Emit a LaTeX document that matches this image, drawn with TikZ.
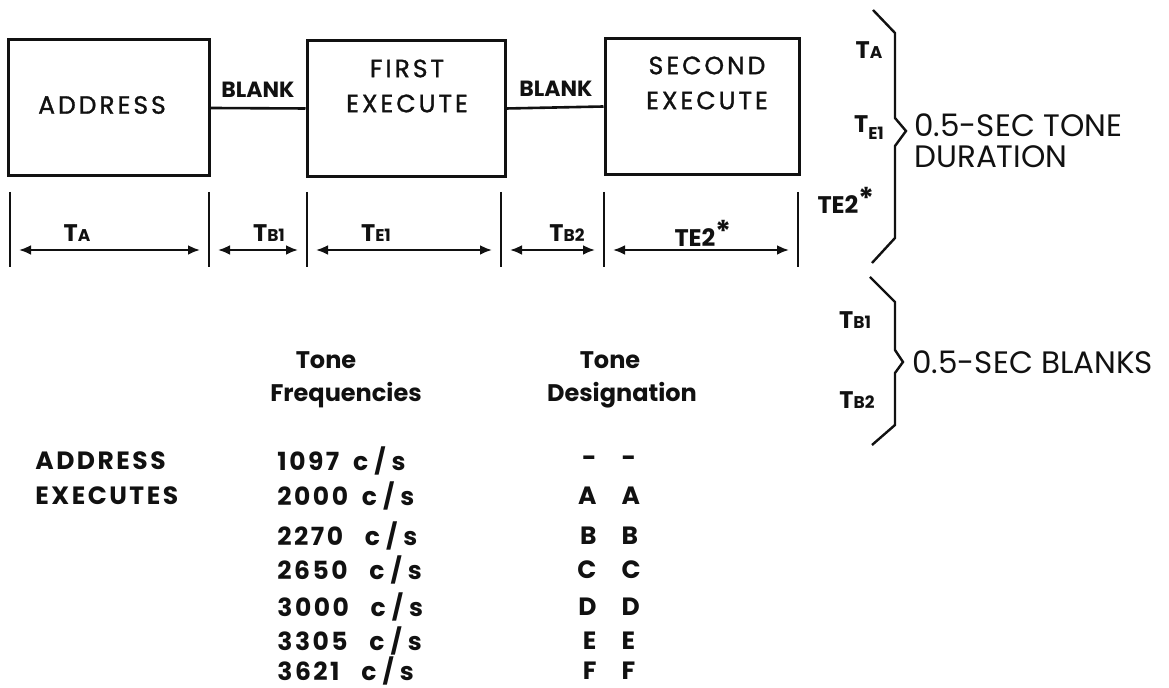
\documentclass[tikz,border=0pt]{standalone}
\usepackage{fontspec}
\setmainfont{Poppins}
\newfontfamily\lettering[LetterSpace=12,FakeBold=1.2]{Poppins}
\newfontfamily\tablefont[LetterSpace=10]{Poppins}
\usepackage{xcolor}
\usepackage{tikz}
\usetikzlibrary{arrows.meta,calc}
\definecolor{ink}{HTML}{111111}
\newcommand{\tsub}[1]{T{\fontsize{8.5pt}{10pt}\selectfont #1}}
\newcommand{\tlow}[1]{T\raisebox{-3.5pt}{\fontsize{8.5pt}{10pt}\selectfont #1}}
\newcommand{\tstar}{\raisebox{2pt}{\fontsize{15pt}{15pt}\selectfont\bfseries *}}
\newcommand{\cps}{c\kern3pt/\kern3pt s}
\tikzset{
  tonebox/.style={rectangle, draw=ink, line width=1.5pt, minimum height=68pt, inner sep=0pt},
  boxlabel/.style={text=ink, align=center, inner sep=0pt, font=\lettering\fontsize{12.5pt}{17.5pt}\selectfont},
  blanklabel/.style={text=ink, inner sep=0pt, font=\fontsize{11pt}{13pt}\selectfont\bfseries},
  blankline/.style={draw=ink, line width=1.3pt},
  tick/.style={draw=ink, line width=1.1pt},
  dimarrow/.style={{Latex[length=6pt,width=5pt]}-{Latex[length=6pt,width=5pt]}, draw=ink, line width=1.2pt, shorten <=4.5pt, shorten >=4.5pt},
  dimlabel/.style={text=ink, inner sep=0pt, font=\fontsize{12pt}{14pt}\selectfont\bfseries},
  brace/.style={draw=ink, line width=1.2pt},
  bracetext/.style={text=ink, align=left, inner sep=0pt, anchor=west, font=\fontsize{15.5pt}{15.5pt}\selectfont},
  tablehead/.style={text=ink, inner sep=0pt, font=\fontsize{12pt}{14pt}\selectfont\bfseries},
  tablecell/.style={text=ink, inner sep=0pt, font=\tablefont\fontsize{12.5pt}{14pt}\selectfont\bfseries}
}
\begin{document}
\begin{tikzpicture}[x=0.5pt, y=-0.5pt]
  \useasboundingbox (0,0) rectangle (1169,688);
  % tone boxes
  \node[tonebox, minimum width=100.5pt] (addr) at (108.5,108) {};
  \node[tonebox, minimum width=99pt] (first) at (406,108.5) {};
  \node[tonebox, minimum width=97pt] (second) at (702,106.5) {};
  \node[boxlabel] (addrtxt) at (102,105) {ADDRESS};
  \node[boxlabel] (firsttxt) at (407,86) {FIRST\\EXECUTE};
  \node[boxlabel] (secondtxt) at (707,83) {SECOND\\EXECUTE};
  % blanks
  \draw[blankline] (addr.east) -- (first.west);
  \draw[blankline] (first.east) -- (second.west);
  \node[blanklabel] (blank1) at (258,90) {BLANK};
  \node[blanklabel] (blank2) at (556,89) {BLANK};
  % durations
  \foreach \x [count=\i] in {10,209,307,501,604,798} {
    \coordinate (top\i) at (\x,192);
    \coordinate (bot\i) at (\x,267);
    \coordinate (mid\i) at (\x,250);
    \draw[tick] (top\i) -- (bot\i);
  }
  \foreach \i/\j in {1/2,2/3,3/4,4/5,5/6}
    \draw[dimarrow] (mid\i) -- (mid\j);
  \node[dimlabel] (ta) at (77,233) {\tsub{A}};
  \node[dimlabel] (tb1) at (269,233) {\tsub{B1}};
  \node[dimlabel] (te1) at (376,233) {\tsub{E1}};
  \node[dimlabel] (tb2) at (567,233) {\tsub{B2}};
  \node[dimlabel] (te2) at (703,233) {TE2\tstar};
  % braces
  \coordinate (tonetip) at (906,131);
  \coordinate (blanktip) at (903,362);
  \draw[brace] (873,10) -- (895,33) -- (895,118) -- (tonetip) -- (895,146) -- (895,238) -- (872,263);
  \draw[brace] (870,277) -- (895,302) -- (895,350) -- (blanktip) -- (895,373) -- (895,425) -- (872,445);
  \node[dimlabel] (bta) at (869,50) {\tsub{A}};
  \node[dimlabel] (bte1) at (869,128) {\tlow{E1}};
  \node[dimlabel] (bte2) at (846,200) {TE2\tstar};
  \node[dimlabel] (btb1) at (855,320) {\tsub{B1}};
  \node[dimlabel] (btb2) at (857,400) {\tsub{B2}};
  \node[bracetext] (tonedur) at ($(tonetip)+(8,10)$) {0.5-SEC TONE\\DURATION};
  \node[bracetext] (blankdur) at ($(blanktip)+(9,0)$) {0.5-SEC BLANKS};
  % tone table
  \node[tablehead] (freqtone) at (326,360) {Tone};
  \node[tablehead] (freqhead) at (346,395) {Frequencies};
  \node[tablehead] (desigtone) at (610,360) {Tone};
  \node[tablehead] (desighead) at (622,395) {Designation};
  \node[tablecell, anchor=west] (addrrow) at (35,461) {ADDRESS};
  \node[tablecell, anchor=west] (execrow) at (35,496) {EXECUTES};
  \foreach \f/\g/\d/\y [count=\r] in {1097/3/-\quad-/461, 2000/3/A\quad A/496, 2270/7/B\quad B/536,
      2650/7/C\quad C/570, 3000/7/D\quad D/607, 3305/7/E\quad E/641, 3621/7/F\quad F/671} {
    \node[tablecell, anchor=west] (freq\r) at (277,\y) {\f\ \hspace{\g pt}\cps};
    \node[tablecell] (desig\r) at (609,\y) {\d};
  }
\end{tikzpicture}
\end{document}
